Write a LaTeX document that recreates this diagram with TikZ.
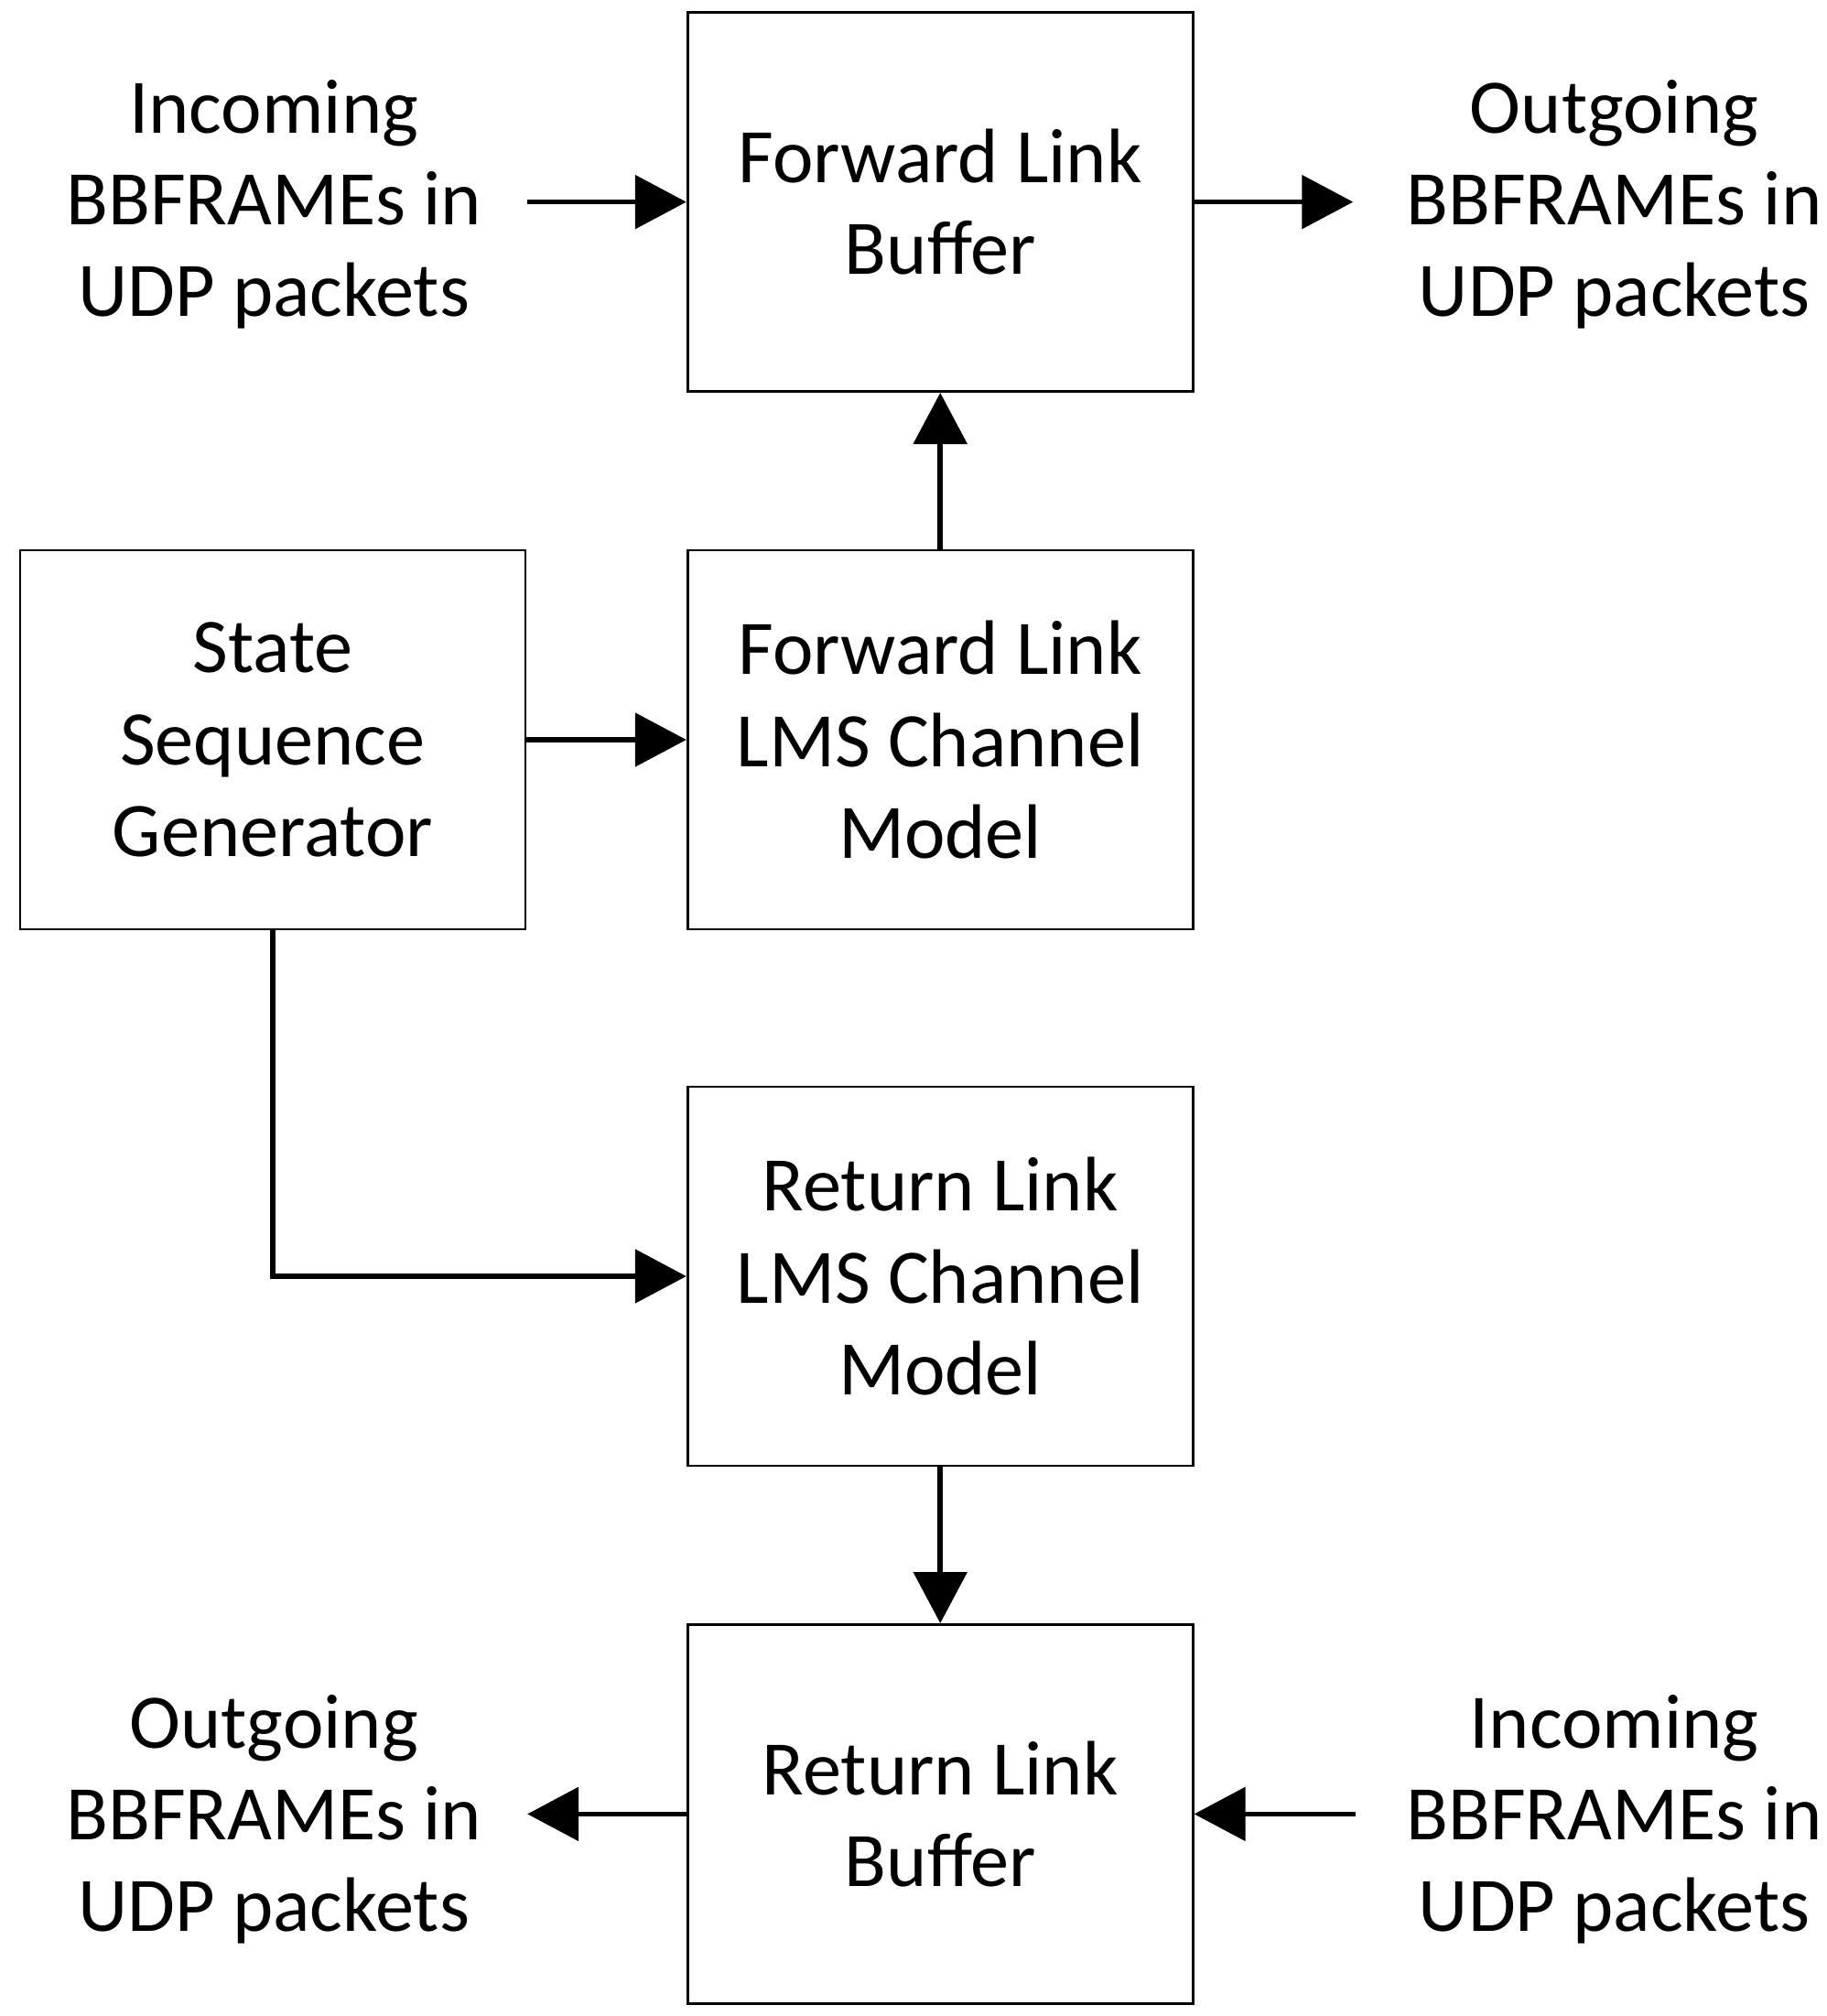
\documentclass[tikz,border=0pt]{standalone}
\usepackage{fontspec}
\setmainfont{Carlito}
\usetikzlibrary{arrows.meta,positioning}

\begin{document}
\begin{tikzpicture}[x = {(0.014049cm,0cm)},
                    y = {(0cm,-0.014049cm)}]
% styles
\tikzset{block/.style={draw=black,line width=0.8pt,minimum width=5.52cm,minimum height=4.14cm,
                       align=center,font=\fontsize{24}{28.5}\selectfont,inner sep=0pt},
         label/.style={align=center,font=\fontsize{24}{28.5}\selectfont,inner sep=0pt},
         flow/.style={line width=1.6pt,-{Triangle[length=0.56cm,width=0.58cm]}}}
\useasboundingbox (0,0) rectangle (1420,1567);
% blocks
\node[block] (flb) at (731,157) {Forward Link\\Buffer};
\node[block] (ssg) at (212,575) {State\\Sequence\\Generator};
\node[block] (fll) at (731,575) {Forward Link\\LMS Channel\\Model};
\node[block] (rll) at (731,992) {Return Link\\LMS Channel\\Model};
\node[block] (rlb) at (731,1410) {Return Link\\Buffer};
% labels
\node[label] (inf) at (213,159) {Incoming\\BBFRAMEs in\\UDP packets};
\node[label] (outf) at (1255,159) {Outgoing\\BBFRAMEs in\\UDP packets};
\node[label] (outr) at (213,1414) {Outgoing\\BBFRAMEs in\\UDP packets};
\node[label] (inr) at (1255,1414) {Incoming\\BBFRAMEs in\\UDP packets};
% free ends
\coordinate (a1) at (410,157);
\coordinate (a2) at (1052,157);
\coordinate (a3) at (410,1410);
\coordinate (a4) at (1054,1410);
% arrows
\draw[flow] (a1) -- (flb.west);
\draw[flow] (flb.east) -- (a2);
\draw[flow] (fll.north) -- (flb.south);
\draw[flow] (ssg.east) -- (fll.west);
\draw[flow] (ssg.south) |- (rll.west);
\draw[flow] (rll.south) -- (rlb.north);
\draw[flow] (rlb.west) -- (a3);
\draw[flow] (a4) -- (rlb.east);
\end{tikzpicture}
\end{document}
